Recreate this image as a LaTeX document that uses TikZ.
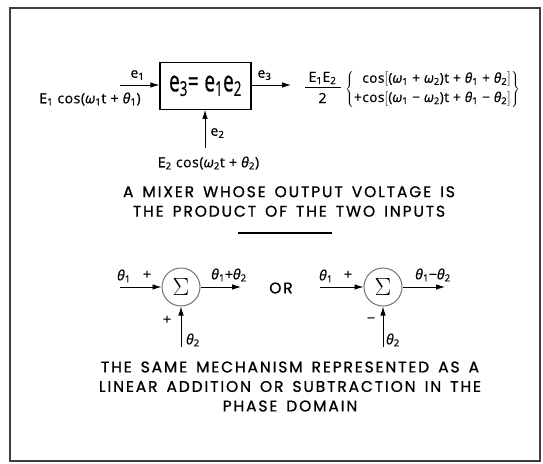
\documentclass[tikz,border=0pt]{standalone}
\usepackage{fontspec}
\usepackage{graphicx}
\setmainfont{Open Sans}[FakeBold=0.7,LetterSpace=4]
\newfontfamily\capfont{Poppins}[FakeBold=0.9,LetterSpace=12,WordSpace=1.5]
\usetikzlibrary{arrows.meta}
\newcommand{\tht}{{\itshape θ}}
\newcommand{\om}{{\itshape ω}}
\newcommand{\subs}[1]{\textsubscript{#1}}
\tikzset{
  wire/.style={line width=0.8pt},
  arr/.style={wire,-{Latex[length=9pt,width=5.5pt]}},
  lbl/.style={inner sep=0pt,font=\fontsize{14}{16}\selectfont},
  captext/.style={inner sep=0pt,align=center,font=\capfont\fontsize{15.5}{19.5}\selectfont},
  sumnode/.style={circle,draw=black!55,line width=1pt,minimum size=38pt,inner sep=0pt},
  mixbox/.style={draw,line width=1.2pt,minimum width=91pt,minimum height=47pt,inner sep=0pt},
}
\begin{document}
\begin{tikzpicture}[x=1pt,y=-1pt]
\useasboundingbox (0,0) rectangle (543,463);
\draw[line width=1.3pt,black!75] (10,8) rectangle (540,461);
% mixer
\node[mixbox] (mix) at (205.5,85.8) {\scalebox{0.95}[1.45]{\fontsize{20}{22}\selectfont e\subs{3}= e\subs{1}e\subs{2}}};
\coordinate (in1) at (120,85);
\coordinate (out1) at (291,85);
\coordinate (in2) at (205,148);
\draw[arr] (in1) -- (mix.west |- in1);
\draw[arr] (mix.east |- out1) -- (out1);
\draw[arr] (in2) -- (mix.south -| in2);
\node[lbl] (le1) at (137.5,75) {e\subs{1}};
\node[lbl] (le3) at (264.5,75) {e\subs{3}};
\node[lbl] (le2) at (217.5,133) {e\subs{2}};
\node[lbl] (E1) at (90,99) {E\subs{1} cos(\om\subs{1}t + \tht\subs{1})};
\node[lbl] (E2) at (208.5,163) {E\subs{2} cos(\om\subs{2}t + \tht\subs{2})};
% output expression
\node[lbl] (num) at (322.5,78) {E\subs{1}E\subs{2}};
\node[lbl] (den) at (322.5,98) {2};
\draw[line width=0.9pt] (305,87) -- (341,87);
\node[lbl,anchor=west,font=\fontsize{13.5}{16}\selectfont] (expr) at (345,89) {$\left\{\begin{tabular}{@{}r@{}}
cos$\Big[$(\om\subs{1} + \om\subs{2})t + \tht\subs{1} + \tht\subs{2}$\Big]$\\[3pt]
+cos$\Big[$(\om\subs{1} − \om\subs{2})t + \tht\subs{1} − \tht\subs{2}$\Big]$
\end{tabular}\right\}$};
% caption 1
\node[captext] (cap1) at (289,201.5) {A MIXER WHOSE OUTPUT VOLTAGE IS\\THE PRODUCT OF THE TWO INPUTS};
\draw[line width=1.3pt] (238,233) -- (332,233);
% summers
\node[sumnode] (s1) at (181,287) {\fontsize{24}{24}\selectfont$\Sigma$};
\coordinate (a1) at (120,287);
\coordinate (b1) at (241,287);
\coordinate (c1) at (181,347);
\draw[arr] (a1) -- (s1);
\draw[arr] (s1) -- (b1);
\draw[arr] (c1) -- (s1);
\node[lbl] (t11) at (124,276) {\tht\subs{1}};
\node[lbl] (p11) at (147,275) {+};
\node[lbl] (o1) at (229,275) {\tht\subs{1}+\tht\subs{2}};
\node[lbl] (p12) at (167,320) {+};
\node[lbl] (t12) at (193,340) {\tht\subs{2}};
\node[lbl,font=\capfont\fontsize{15.5}{15}\selectfont] (or) at (281,288) {OR};
\node[sumnode] (s2) at (383,287) {\fontsize{24}{24}\selectfont$\Sigma$};
\coordinate (a2) at (320,287);
\coordinate (b2) at (445,287);
\coordinate (c2) at (383,347);
\draw[arr] (a2) -- (s2);
\draw[arr] (s2) -- (b2);
\draw[arr] (c2) -- (s2);
\node[lbl] (t21) at (326,276) {\tht\subs{1}};
\node[lbl] (p21) at (348,275) {+};
\node[lbl] (o2) at (433,275) {\tht\subs{1}−\tht\subs{2}};
\node[lbl] (m22) at (371,320) {−};
\node[lbl] (t22) at (393,340) {\tht\subs{2}};
% caption 2
\node[captext] (cap2) at (290,386.5) {THE SAME MECHANISM REPRESENTED AS A\\LINEAR ADDITION OR SUBTRACTION IN THE\\PHASE DOMAIN};
\end{tikzpicture}
\end{document}
